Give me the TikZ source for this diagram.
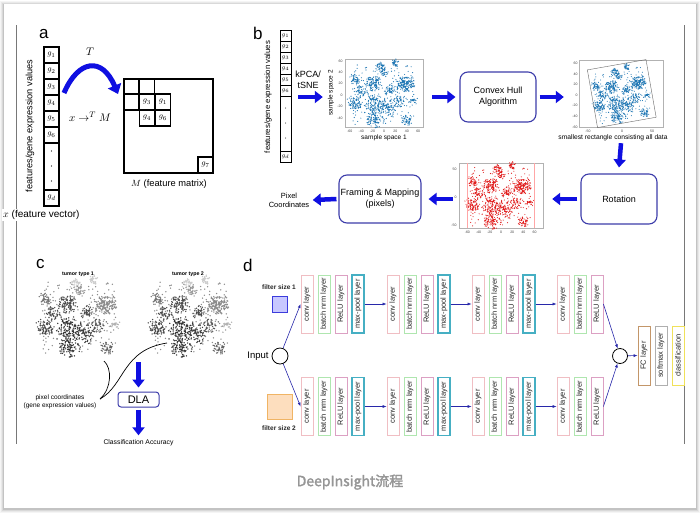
\documentclass[tikz,border=0pt]{standalone}
\usepackage{fontspec}
\usepackage{graphicx}
\setmainfont{Liberation Sans}
\newfontfamily\capfont[FakeBold=2]{Noto Sans CJK SC}
\usetikzlibrary{arrows.meta}
\definecolor{arrowblue}{RGB}{15,15,225}
\definecolor{boxblue}{RGB}{60,60,170}
\definecolor{dblue}{RGB}{40,40,170}
\definecolor{tsneblue}{RGB}{31,119,180}
\definecolor{tsnered}{RGB}{225,30,30}
\definecolor{convc}{RGB}{240,190,195}
\definecolor{bnc}{RGB}{175,230,175}
\definecolor{reluc}{RGB}{220,160,195}
\definecolor{poolc}{RGB}{70,175,195}
\definecolor{fcc}{RGB}{195,150,105}
\definecolor{smc}{RGB}{175,175,175}
\definecolor{clc}{RGB}{240,225,90}
\definecolor{fonefill}{RGB}{200,200,255}
\definecolor{fonedraw}{RGB}{60,60,220}
\definecolor{ftwofill}{RGB}{253,222,190}
\definecolor{ftwodraw}{RGB}{240,180,100}
\definecolor{framegray}{RGB}{120,120,120}
\definecolor{capgray}{RGB}{150,150,150}
\newcommand\tsnecloud[2]{%
  \pgfmathsetseed{12345}%
  \foreach \cxx/\cyy/\spr/\num/\shd in {37/20/9/150/45, 19/56/4/30/20, -7/52/4/30/20, -19/20/8/100/70, -51/29/5/45/55, -39/6/6/45/70, -51/-15/7/80/70, -16/-15/10/130/80, 10/-23/8/80/75, -16/-41/9/100/80, 40/-44/5/45/60, 10/9/5/40/70, 51/-9/4/25/30, 0/40/5/30/40, 28/-10/6/40/65}{%
    \fill[#1] foreach \i in {1,...,\num}{({\cxx+\spr*(rand+rand)},{\cyy+\spr*(rand+rand)}) circle (#2)};
  }%
  \def\shd{45}%
  \fill[#1] foreach \i in {1,...,180}{({55*rand},{53*rand}) circle (#2)};
}
\begin{document}
\begin{tikzpicture}[x=1pt,y=-1pt,
  bluearrow/.style={draw=arrowblue, line width=4.5pt, -{Triangle[length=8pt,width=12pt]}},
  flowbox/.style={draw=boxblue, line width=1.1pt, rounded corners=8pt, minimum width=76pt, minimum height=50pt, align=center, inner sep=1pt, font=\fontsize{9}{11}\selectfont},
  acell/.style={draw, line width=1.1pt, minimum width=15pt, minimum height=16pt, inner sep=0pt, font=\fontsize{8}{9}\selectfont},
  bcell/.style={draw, line width=0.9pt, minimum width=11pt, minimum height=11pt, inner sep=0pt, font=\fontsize{6.5}{7}\selectfont},
  plotframe/.style={draw=black!30, line width=0.4pt, inner sep=0pt},
  ticklab/.style={font=\fontsize{3.5}{4}\selectfont, inner sep=0.3pt, text=black!75},
  layer/.style={draw=#1, line width=0.8pt, minimum width=12pt, minimum height=58pt, inner sep=0pt, font=\fontsize{7.5}{8}\selectfont, text=black!85},
  darr/.style={draw=dblue, line width=0.6pt, -{Latex[length=4pt,width=3pt]}},
  panellab/.style={font=\fontsize{17}{18}\selectfont, anchor=base west, inner sep=0pt},
]
\useasboundingbox (0,0) rectangle (700,517);
% card with shadow
\foreach \k/\o in {4/0.04,3/0.05,2/0.07,1/0.1}
  \fill[black,opacity=\o] (4-\k,5-\k) rectangle (696+\k,509+\k);
\fill[white] (4,4) rectangle (696,508);
\draw[framegray, line width=1pt] (16.5,25) -- (16.5,444);
\draw[framegray, line width=1pt] (684,25) -- (684,444);

% ---------------- panel a
\node[panellab] (la) at (39,38) {a};
\foreach \k/\yc in {1/55,2/71,3/87,4/103,5/119,6/135}
  \node[acell] (av\k) at (51.5,\yc) {$g_{\k}$};
\node[acell, minimum height=47pt] (avdots) at (51.5,166.5) {};
\node[acell] (avd) at (51.5,198) {$g_d$};
\foreach \yy in {151,166,181} \fill (51.5,\yy) circle (0.6);
\node[rotate=90, font=\fontsize{9.2}{10}\selectfont] (afeat) at (30,126) {features/gene expression values};
\node[fill=white, anchor=west, inner sep=1pt, font=\fontsize{10}{11}\selectfont] (avlab) at (2,215) {$x$ (feature vector)};
\coordinate (arcs) at (64,93);
\coordinate (arce) at (118,94);
\draw[arrowblue, line width=5pt, -{Triangle[length=9pt,width=14pt]}] (arcs) .. controls (78,60) and (102,56) .. (arce);
\node[font=\fontsize{11}{12}\selectfont] (aT) at (90,52) {$T$};
\node[font=\fontsize{11}{12}\selectfont] (amap) at (90,117) {$x \rightarrow^{T} M$};
\node[draw, line width=1.1pt, minimum width=89pt, minimum height=94pt, inner sep=0pt] (mat) at (168.5,126) {};
\node[acell] (m11) at (131.5,86.5) {};
\node[acell] (m12) at (147,86.5) {};
\node[acell] (m21) at (131.5,102) {};
\node[acell] (m22) at (147,102) {$g_3$};
\node[acell] (m23) at (163,102) {$g_1$};
\node[acell] (m32) at (147,118) {$g_4$};
\node[acell] (m33) at (163,118) {$g_6$};
\node[acell] (m7) at (205.5,165) {$g_7$};
\node[font=\fontsize{9.3}{10}\selectfont] (mlab) at (169,184) {$M$ (feature matrix)};

% ---------------- panel b
\node[panellab] (lb) at (253,39) {b};
\foreach \k in {1,...,6}
  \node[bcell] (bv\k) at (285.5,{24.5+11*\k}) {$g_{\k}$};
\node[bcell, minimum height=55pt] (bvdots) at (285.5,123.5) {};
\node[bcell] (bvd) at (285.5,156.5) {$g_d$};
\foreach \yy in {108,123,138} \fill (285.5,\yy) circle (0.5);
\node[rotate=90, font=\fontsize{7.8}{9}\selectfont] (bfeat) at (268,97) {features/gene expression values};
\node[align=center, font=\fontsize{9}{10.5}\selectfont] (kpca) at (308,80) {kPCA/\\tSNE};
% plot 1
\node[plotframe, minimum width=78pt, minimum height=68pt] (p1) at (384,93) {};
\begin{scope}[shift={(384,95)}, x=0.57pt, y=0.57pt]
  \tsnecloud{tsneblue}{1}
\end{scope}
\foreach \v in {60,40,20,0,-20,-40}
  \node[ticklab, anchor=east] (p1y\v) at (343,{95-0.57*\v}) {\v};
\foreach \v in {-60,-40,...,60}
  \node[ticklab] (p1x\v) at ({384+0.57*\v},131) {\v};
\node[font=\fontsize{6.5}{7}\selectfont] (p1xl) at (384,137.5) {sample space 1};
\node[rotate=90, font=\fontsize{6.5}{7}\selectfont] (p1yl) at (331,93) {sample space 2};
% plot 2 (rotated)
\node[plotframe, minimum width=84pt, minimum height=67pt] (p2) at (621,93.5) {};
\begin{scope}[shift={(622,95)}, rotate=10, x=0.48pt, y=0.48pt]
  \tsnecloud{tsneblue}{1.1}
  \draw[black!60, line width=0.4pt] (-62,-58) rectangle (62,64);
\end{scope}
\foreach \v in {60,40,20,0,-20,-40,-60}
  \node[ticklab, anchor=east] (p2y\v) at (578,{95-0.53*\v}) {\v};
\foreach \v/\xx in {-50/588,0/622,50/652}
  \node[ticklab] (p2x\v) at (\xx,131) {\v};
\node[font=\fontsize{6.7}{7}\selectfont] (p2lab) at (613,137.5) {smallest rectangle consisting all data};
% plot 3 (red)
\node[plotframe, minimum width=84pt, minimum height=65pt] (p3) at (501,195.5) {};
\begin{scope}[shift={(501,197)}, x=0.56pt, y=0.56pt]
  \tsnecloud{tsnered}{1}
  \draw[red!35, line width=0.5pt] (-60,-55) -- (-60,60);
  \draw[red!35, line width=0.5pt] (60,-55) -- (60,60);
\end{scope}
\foreach \v in {50,0,-50}
  \node[ticklab, anchor=east] (p3y\v) at (457,{197-0.56*\v}) {\v};
\foreach \v in {-60,-40,...,60}
  \node[ticklab] (p3x\v) at ({501+0.56*\v},232) {\v};
% flow boxes
\node[flowbox] (hull) at (498,97) {Convex Hull\\Algorithm};
\node[flowbox] (rot) at (619,199) {Rotation};
\node[flowbox, minimum width=82pt, minimum height=48pt] (frame) at (380,199) {Framing \& Mapping\\(pixels)};
\node[align=center, font=\fontsize{7.5}{9}\selectfont] (pix) at (289,200) {Pixel\\Coordinates};
\coordinate (kpa) at (298,97);
\draw[bluearrow] (kpa) -- ([xshift=-22pt]p1.west|-kpa);
\draw[bluearrow] ([xshift=9pt]p1.east|-kpa) -- ([xshift=-4pt]hull.west);
\draw[bluearrow] ([xshift=3pt]hull.east) -- ([xshift=-15pt]p2.west|-hull);
\draw[bluearrow] ([yshift=-16pt]p2.south) -- ([yshift=6pt]rot.north);
\draw[bluearrow] ([xshift=-3pt]rot.west) -- ([xshift=9pt]p3.east|-rot);
\draw[bluearrow] ([xshift=-6pt]p3.west|-frame) -- ([xshift=7pt]frame.east);
\draw[bluearrow] ([xshift=-2pt]frame.west) -- (pix.east);

% ---------------- panel c
\node[panellab] (lc) at (36,268) {c};
\node[font=\bfseries\fontsize{5.3}{6}\selectfont] (tt1) at (78,274) {tumor type 1};
\node[font=\bfseries\fontsize{5.3}{6}\selectfont] (tt2) at (188,274) {tumor type 2};
\begin{scope}[shift={(80,318)}, x=0.68pt, y=0.68pt]
  \tsnecloud{black!\shd}{1.1}
\end{scope}
\begin{scope}[shift={(192,318)}, x=0.68pt, y=0.68pt]
  \tsnecloud{black!\shd}{1.1}
\end{scope}
\node[align=center, font=\fontsize{6.5}{8}\selectfont] (pc) at (60,402) {pixel coordinates\\(gene expression values)};
\coordinate (pcs) at (100,399);
\coordinate (cone) at (104,361);
\coordinate (ctwo) at (167,343);
\draw[line width=0.7pt] (pcs) .. controls (112,388) and (112,368) .. (cone);
\draw[line width=0.7pt] (pcs) .. controls (125,385) and (122,350) .. (ctwo);
\node[draw=boxblue, line width=1pt, rounded corners=3pt, minimum width=41pt, minimum height=15pt, inner sep=0pt, font=\fontsize{11}{12}\selectfont] (dla) at (138.5,399.5) {DLA};
\coordinate (dlatop) at (138.5,362);
\draw[bluearrow, shorten >=4pt] (dlatop) -- (dla.north);
\node[font=\fontsize{6.8}{8}\selectfont] (acc) at (138.5,443) {Classification Accuracy};
\draw[bluearrow, shorten <=2pt, shorten >=1pt] (dla.south) -- (acc.north);

% ---------------- panel d
\node[panellab] (ld) at (243,271) {d};
\node[font=\bfseries\fontsize{6.5}{7}\selectfont, text=black!85] (fs1) at (279,287) {filter size 1};
\node[draw=fonedraw, fill=fonefill, line width=0.9pt, minimum width=15pt, minimum height=16pt, inner sep=0pt] (sq1) at (279.5,304.5) {};
\node[draw=ftwodraw, fill=ftwofill, line width=0.9pt, minimum size=25pt, inner sep=0pt] (sq2) at (279.5,406.5) {};
\node[font=\bfseries\fontsize{6.5}{7}\selectfont, text=black!85] (fs2) at (279,428) {filter size 2};
\node[font=\fontsize{9.5}{10}\selectfont] (inlab) at (258,356) {Input};
\node[circle, draw, line width=0.8pt, minimum size=16pt, inner sep=0pt] (in) at (280,356) {};
\foreach \r/\yc in {t/304,b/406.5}{
  \foreach \g/\gx in {1/307,2/393,3/478}{
    \node[layer=convc] (\r\g conv) at (\gx,\yc) {\rotatebox{90}{conv layer}};
    \node[layer=bnc] (\r\g bn) at (\gx+17,\yc) {\rotatebox{90}{batch nrm layer}};
    \node[layer=reluc] (\r\g relu) at (\gx+34,\yc) {\rotatebox{90}{ReLU layer}};
    \node[layer=poolc, line width=1.1pt] (\r\g pool) at (\gx+51,\yc) {\rotatebox{90}{max-pool layer}};
  }
  \node[layer=convc] (\r4conv) at (563,\yc) {\rotatebox{90}{conv layer}};
  \node[layer=bnc] (\r4bn) at (580,\yc) {\rotatebox{90}{batch nrm layer}};
  \node[layer=reluc] (\r4relu) at (597,\yc) {\rotatebox{90}{ReLU layer}};
  \draw[darr] (\r1pool.east) -- (\r2conv.west);
  \draw[darr] (\r2pool.east) -- (\r3conv.west);
  \draw[darr] (\r3pool.east) -- (\r4conv.west);
}
\draw[darr] (in) -- (t1conv.west);
\draw[darr] (in) -- (b1conv.west);
\node[circle, draw, line width=0.8pt, minimum size=15pt, inner sep=0pt] (out) at (620,356) {};
\draw[darr] (t4relu.east) -- (out);
\draw[darr] (b4relu.east) -- (out);
\node[layer=fcc, minimum height=59pt] (fc) at (644,355.5) {\rotatebox{90}{FC layer}};
\node[layer=smc, minimum height=59pt] (sm) at (661,355.5) {\rotatebox{90}{softmax layer}};
\node[layer=clc, minimum height=59pt] (cls) at (678,355.5) {\rotatebox{90}{classification}};
\draw[darr] (out) -- (fc.west);

% caption
\node[text=capgray, font=\capfont\fontsize{14}{16}\selectfont] (cap) at (350,482) {DeepInsight流程};
\end{tikzpicture}
\end{document}
